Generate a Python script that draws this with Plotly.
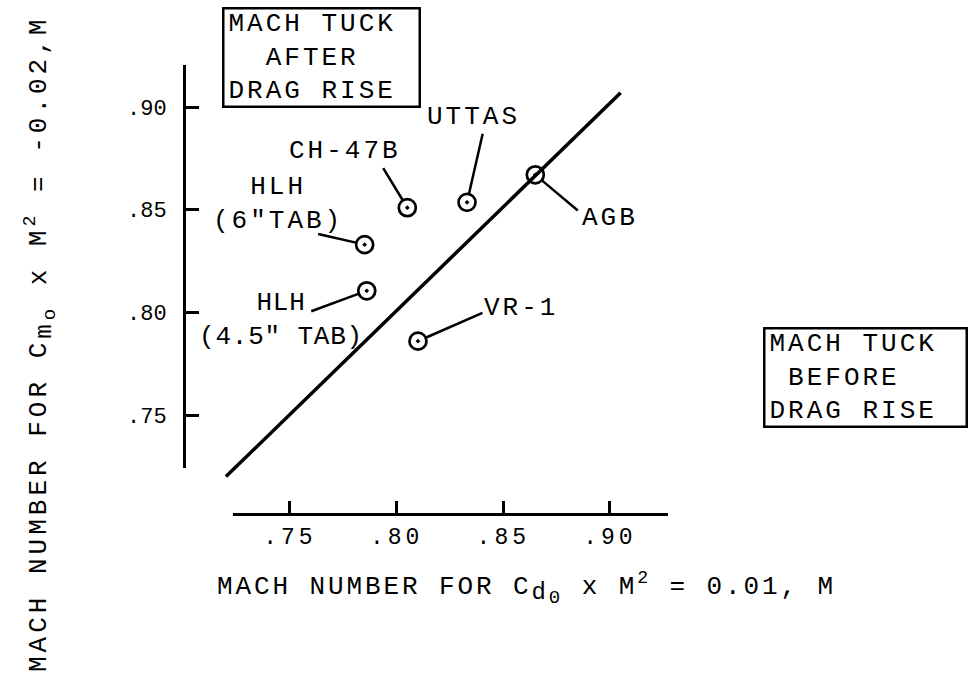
# Mach tuck vs drag-rise Mach number for several rotor airfoils
import plotly.graph_objects as go

# data
aircraft = ['HLH<br>(6"TAB)', 'HLH<br>(4.5" TAB)', 'CH-47B', 'UTTAS', 'AGB', 'VR-1']
mach_drag_rise = [0.785, 0.786, 0.805, 0.833, 0.865, 0.810]   # M for Cd0 x M^2 = 0.01
mach_tuck = [0.833, 0.8105, 0.851, 0.8536, 0.867, 0.786]      # M for Cm0 x M^2 = -0.02
boundary_x = [0.72, 0.905]
boundary_y = [0.72, 0.907]
tick_vals = [0.75, 0.80, 0.85, 0.90]
tick_text = ['.75', '.80', '.85', '.90']

# where each label / leader line sits relative to its point (pixels)
label_shift = [(-87, 41), (-86, -29), (-62, 57), (6, 85), (75, -43), (103, 33)]
label_gap = [3, 0.8, 3, 3, 3, 3]
leader_tail = [(-48, -11), (-57, 21), (-25, -41), (16, -70), (44, 37), (66, -29)]

W, H = 969, 677
FONT = 'Liberation Mono, Courier New, monospace'

# visible axes: pixel extent and value range (the axes of the scan are detached)
X_PX, X_RANGE = (233, 668), (0.7233, 0.9272)
Y_PX, Y_RANGE = (65, 468), (0.9205, 0.7242)   # top -> bottom


def full_range(px, rng, size):
    # extend the axis scale over the whole page so the line is not clipped
    s = (rng[1] - rng[0]) / (px[1] - px[0])
    return [rng[0] - px[0] * s, rng[1] + (size - px[1]) * s]


def typed(s, gap=3):
    # typewriter-like letter spacing
    return '<span style="letter-spacing:%gpx">%s</span>' % (gap, s)


fx = full_range(X_PX, X_RANGE, W)
fy = full_range(Y_PX, Y_RANGE, H)[::-1]

fig = go.Figure()

fig.add_trace(go.Scatter(x=boundary_x, y=boundary_y, mode='lines',
                         line=dict(color='black', width=3.5), hoverinfo='skip'))

fig.add_trace(go.Scatter(x=mach_drag_rise, y=mach_tuck, mode='markers',
                         marker=dict(symbol='circle-open-dot', size=17, color='black',
                                     line=dict(color='black', width=2.7)),
                         text=aircraft))

# carrier for the visible axes
fig.add_trace(go.Scatter(x=[None], y=[None], xaxis='x2', yaxis='y2', hoverinfo='skip'))

annotations = []
for name, xv, yv, (sx, sy), gap, (ax, ay) in zip(aircraft, mach_drag_rise, mach_tuck,
                                                   label_shift, label_gap, leader_tail):
    lines = '<br>'.join(typed(p, gap) for p in name.split('<br>'))
    annotations.append(dict(x=xv, y=yv, xref='x', yref='y', text=lines,
                            showarrow=False, xshift=sx, yshift=sy, align='center',
                            font=dict(family=FONT, size=26, color='black')))
    annotations.append(dict(x=xv, y=yv, xref='x', yref='y', text='',
                            showarrow=True, arrowhead=0, arrowwidth=2.5,
                            arrowcolor='black', ax=ax, ay=ay, standoff=9))

# boxed notes
box_font = dict(family=FONT, size=26, color='black')
annotations.append(dict(x=222 / W, y=1 - 7 / H, xref='paper', yref='paper',
                        xanchor='left', yanchor='top', showarrow=False,
                        text='<br>'.join(typed(t) for t in
                                         ['MACH TUCK', '\u00a0\u00a0AFTER', 'DRAG RISE']),
                        align='left', width=186, height=88, borderpad=4, borderwidth=2.5,
                        bordercolor='black', bgcolor='white', font=box_font))
annotations.append(dict(x=763 / W, y=1 - 327 / H, xref='paper', yref='paper',
                        xanchor='left', yanchor='top', showarrow=False,
                        text='<br>'.join(typed(t) for t in
                                         ['MACH TUCK', '\u00a0BEFORE', 'DRAG RISE']),
                        align='left', width=192, height=88, borderpad=4, borderwidth=2.5,
                        bordercolor='black', bgcolor='white', font=box_font))

# axis titles
x_title = typed('MACH NUMBER FOR C<sub><span style="font-size:24px">d</span>'
                '<sub><span style="font-size:19px">0</span></sub></sub>'
                ' x M<sup>2</sup> = 0.01, M', 2.9)
y_title = typed('MACH NUMBER FOR C<sub><span style="font-size:24px">m</span>'
                '<sub><span style="font-size:19px">o</span></sub></sub>'
                ' x M<sup>2</sup> = -0.02,M', 4.0)
annotations.append(dict(x=215 / W, y=1 - 566 / H, xref='paper', yref='paper',
                        xanchor='left', yanchor='top', showarrow=False, text=x_title,
                        font=dict(family=FONT, size=26, color='black')))
annotations.append(dict(x=40 / W, y=1 - 674 / H, xref='paper', yref='paper',
                        xanchor='center', yanchor='bottom', showarrow=False, textangle=-90,
                        text=y_title, font=dict(family=FONT, size=26, color='black')))

fig.update_layout(
    width=W, height=H, autosize=False,
    margin=dict(l=0, r=0, t=0, b=0),
    paper_bgcolor='white', plot_bgcolor='rgba(0,0,0,0)',
    showlegend=False,
    annotations=annotations,
    # data axes span the page, hidden
    xaxis=dict(domain=[0, 1], range=fx, visible=False, fixedrange=True),
    yaxis=dict(domain=[0, 1], range=fy, visible=False, fixedrange=True),
    # drawn axes
    xaxis2=dict(domain=[X_PX[0] / W, X_PX[1] / W], range=list(X_RANGE),
                anchor='free', position=1 - 514 / H,
                showline=True, linecolor='black', linewidth=3,
                ticks='inside', ticklen=12, tickwidth=2.5, tickcolor='black',
                tickvals=tick_vals, ticktext=[typed(t, 4) for t in tick_text],
                ticklabelstandoff=0,
                showgrid=False, zeroline=False, fixedrange=True,
                tickfont=dict(family=FONT, size=23, color='black')),
    yaxis2=dict(domain=[1 - Y_PX[1] / H, 1 - Y_PX[0] / H], range=[Y_RANGE[1], Y_RANGE[0]],
                anchor='free', position=184 / W,
                showline=True, linecolor='black', linewidth=3,
                ticks='inside', ticklen=13, tickwidth=2.5, tickcolor='black',
                tickvals=tick_vals, ticktext=tick_text,
                ticklabelstandoff=12,
                showgrid=False, zeroline=False, fixedrange=True,
                tickfont=dict(family=FONT, size=22, color='black')),
)

fig.write_html("out.html", config={'displayModeBar': False},
               post_script="document.body.style.margin='0';")
